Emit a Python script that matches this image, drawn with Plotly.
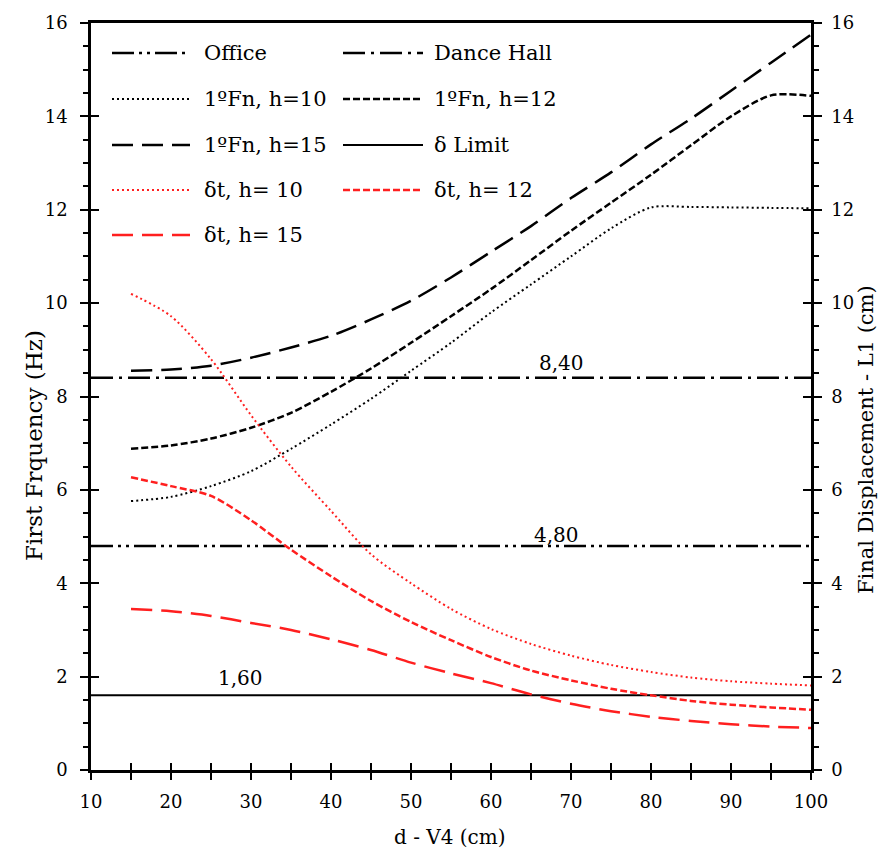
import plotly.graph_objects as go

# ---------------- data ----------------
d_cm = [15, 20, 25, 30, 35, 40, 45, 50, 55, 60, 65, 70, 75, 80, 85, 90, 95, 100]

fn_h10 = [5.76, 5.85, 6.08, 6.40, 6.88, 7.40, 7.95, 8.55, 9.15, 9.80, 10.40, 11.00, 11.60, 12.05, 12.06, 12.05, 12.04, 12.03]
fn_h12 = [6.88, 6.95, 7.10, 7.33, 7.65, 8.10, 8.60, 9.15, 9.72, 10.30, 10.92, 11.55, 12.15, 12.75, 13.38, 14.00, 14.45, 14.44]
fn_h15 = [8.55, 8.58, 8.66, 8.83, 9.05, 9.30, 9.65, 10.05, 10.55, 11.10, 11.65, 12.25, 12.80, 13.40, 13.95, 14.55, 15.15, 15.75]

dt_h10 = [10.20, 9.72, 8.80, 7.60, 6.50, 5.55, 4.62, 4.00, 3.45, 3.02, 2.70, 2.45, 2.25, 2.10, 1.98, 1.90, 1.85, 1.81]
dt_h12 = [6.27, 6.08, 5.87, 5.35, 4.72, 4.15, 3.62, 3.17, 2.78, 2.42, 2.13, 1.92, 1.74, 1.60, 1.48, 1.40, 1.34, 1.29]
dt_h15 = [3.45, 3.40, 3.30, 3.15, 3.00, 2.80, 2.57, 2.30, 2.07, 1.86, 1.62, 1.42, 1.26, 1.14, 1.05, 0.98, 0.93, 0.90]

limit_x = [10, 100]
office_y = [4.80, 4.80]
dance_y = [8.40, 8.40]
delta_limit_y = [1.60, 1.60]

x_ticks = [10, 20, 30, 40, 50, 60, 70, 80, 90, 100]
y_ticks = [0, 2, 4, 6, 8, 10, 12, 14, 16]

RED = "#ff1f1f"
BLACK = "#000000"
SERIF = "DejaVu Serif"

DASH_OFFICE = "22px,5px,3px,5px,3px,5px"
DASH_DANCE = "22px,6px,3px,6px"
DASH_DOT = "2px,3px"
DASH_SHORT = "7px,3px"
DASH_LONG = "21px,9px"

series = [
    ("Office", limit_x, office_y, BLACK, DASH_OFFICE, 2.5, "y", "linear"),
    ("Dance Hall", limit_x, dance_y, BLACK, DASH_DANCE, 2.5, "y", "linear"),
    ("1ºFn, h=10", d_cm, fn_h10, BLACK, DASH_DOT, 2.0, "y", "spline"),
    ("1ºFn, h=12", d_cm, fn_h12, BLACK, DASH_SHORT, 2.5, "y", "spline"),
    ("1ºFn, h=15", d_cm, fn_h15, BLACK, DASH_LONG, 2.5, "y", "spline"),
    ("δ Limit", limit_x, delta_limit_y, BLACK, "solid", 2.0, "y2", "linear"),
    ("δt, h= 10", d_cm, dt_h10, RED, DASH_DOT, 2.0, "y2", "spline"),
    ("δt, h= 12", d_cm, dt_h12, RED, DASH_SHORT, 2.5, "y2", "spline"),
    ("δt, h= 15", d_cm, dt_h15, RED, DASH_LONG, 2.5, "y2", "spline"),
]

fig = go.Figure()
for name, xs, ys, col, dash, w, yax, shape in series:
    fig.add_trace(go.Scatter(
        x=xs, y=ys, name=name, mode="lines", yaxis=yax, showlegend=False,
        line=dict(color=col, dash=dash, width=w, shape=shape, smoothing=0.8),
    ))

# empty helper traces so the inner-tick overlay axes are drawn
fig.add_trace(go.Scatter(x=[None], y=[None], xaxis="x3", yaxis="y3", showlegend=False, hoverinfo="skip"))
fig.add_trace(go.Scatter(x=[None], y=[None], xaxis="x3", yaxis="y4", showlegend=False, hoverinfo="skip"))

W, H = 885, 862
ML, MR, MT, MB = 91, 74, 23, 92
PW, PH = W - ML - MR, H - MT - MB

def px(xpix):
    return (xpix - ML) / PW

def py(ypix):
    return (H - MB - ypix) / PH

tickfont = dict(family=SERIF, size=18, color="black")
TK = dict(tickwidth=2, tickcolor="black")

fig.update_layout(
    width=W, height=H,
    margin=dict(l=ML, r=MR, t=MT, b=MB, autoexpand=False),
    paper_bgcolor="white", plot_bgcolor="white",
    font=dict(family=SERIF, color="black"),
    showlegend=False,
    xaxis=dict(
        range=[10, 100], tickvals=x_ticks, ticks="outside", ticklen=7, **TK,
        minor=dict(dtick=5, ticks="outside", ticklen=7, **TK),
        showline=True, linewidth=2.5, linecolor="black", mirror=True,
        showgrid=False, zeroline=False, tickfont=tickfont, ticklabelstandoff=7,
        automargin=False,
    ),
    xaxis3=dict(
        range=[10, 100], overlaying="x", anchor="y3", side="bottom",
        tickvals=x_ticks, ticks="inside", ticklen=7, **TK,
        minor=dict(dtick=5, ticks="inside", ticklen=7, **TK),
        showticklabels=False, showline=False, showgrid=False, zeroline=False,
    ),
    yaxis=dict(
        range=[0, 16], tickvals=y_ticks, ticks="outside", ticklen=8, **TK,
        minor=dict(dtick=0.5, ticks="outside", ticklen=5, **TK),
        showline=True, linewidth=2.5, linecolor="black",
        showgrid=False, zeroline=False, tickfont=tickfont, ticklabelstandoff=9,
        automargin=False,
    ),
    yaxis2=dict(
        range=[0, 16], tickvals=y_ticks, overlaying="y", side="right", anchor="x",
        ticks="outside", ticklen=8, **TK,
        minor=dict(dtick=0.5, ticks="outside", ticklen=5, **TK),
        showline=True, linewidth=2.5, linecolor="black",
        showgrid=False, zeroline=False, tickfont=tickfont, ticklabelstandoff=6,
        automargin=False,
    ),
    yaxis3=dict(
        range=[0, 16], tickvals=y_ticks, overlaying="y", side="left", anchor="x3",
        ticks="inside", ticklen=8, **TK,
        showticklabels=False, showline=False, showgrid=False, zeroline=False,
    ),
    yaxis4=dict(
        range=[0, 16], tickvals=y_ticks, overlaying="y", side="right", anchor="x3",
        ticks="inside", ticklen=8, **TK,
        showticklabels=False, showline=False, showgrid=False, zeroline=False,
    ),
)

# axis titles
fig.add_annotation(xref="paper", yref="paper", x=px(450), y=py(851), text="d - V4 (cm)",
                   showarrow=False, font=dict(family=SERIF, size=20, color="black"))
fig.add_annotation(xref="paper", yref="paper", x=px(19), y=py(446), text="First Frquency (Hz)",
                   showarrow=False, textangle=-90, font=dict(family=SERIF, size=23, color="black"))
fig.add_annotation(xref="paper", yref="paper", x=px(880), y=py(440), text="Final Displacement - L1 (cm)",
                   showarrow=False, textangle=-90, font=dict(family=SERIF, size=21, color="black"))

# value labels on the reference lines
ann_font = dict(family=SERIF, size=20, color="black")
fig.add_annotation(x=68.8, y=dance_y[0], text="8,40", showarrow=False, xref="x", yref="y",
                   yanchor="bottom", yshift=1, font=ann_font)
fig.add_annotation(x=68.2, y=office_y[0], text="4,80", showarrow=False, xref="x", yref="y",
                   yanchor="bottom", yshift=-3, font=ann_font)
fig.add_annotation(x=28.7, y=delta_limit_y[0], text="1,60", showarrow=False, xref="x", yref="y2",
                   yanchor="bottom", yshift=3, font=ann_font)

# two-column legend
legend_rows = [53, 99, 145, 190, 235]
col_line = [(112, 190), (343, 423)]
col_text = [202, 432]
leg_font = dict(family=SERIF, size=21, color="black")
for i, (name, xs, ys, col, dash, w, yax, shape) in enumerate(series):
    r, c = divmod(i, 2)
    yy = py(legend_rows[r])
    x0, x1 = col_line[c]
    fig.add_shape(type="line", xref="paper", yref="paper",
                  x0=px(x0), x1=px(x1), y0=yy, y1=yy,
                  line=dict(color=col, dash=dash, width=w))
    fig.add_annotation(xref="paper", yref="paper", x=px(col_text[c]), y=yy,
                       text=name, showarrow=False, xanchor="left", yanchor="middle",
                       font=leg_font)

fig.write_html("out.html")
